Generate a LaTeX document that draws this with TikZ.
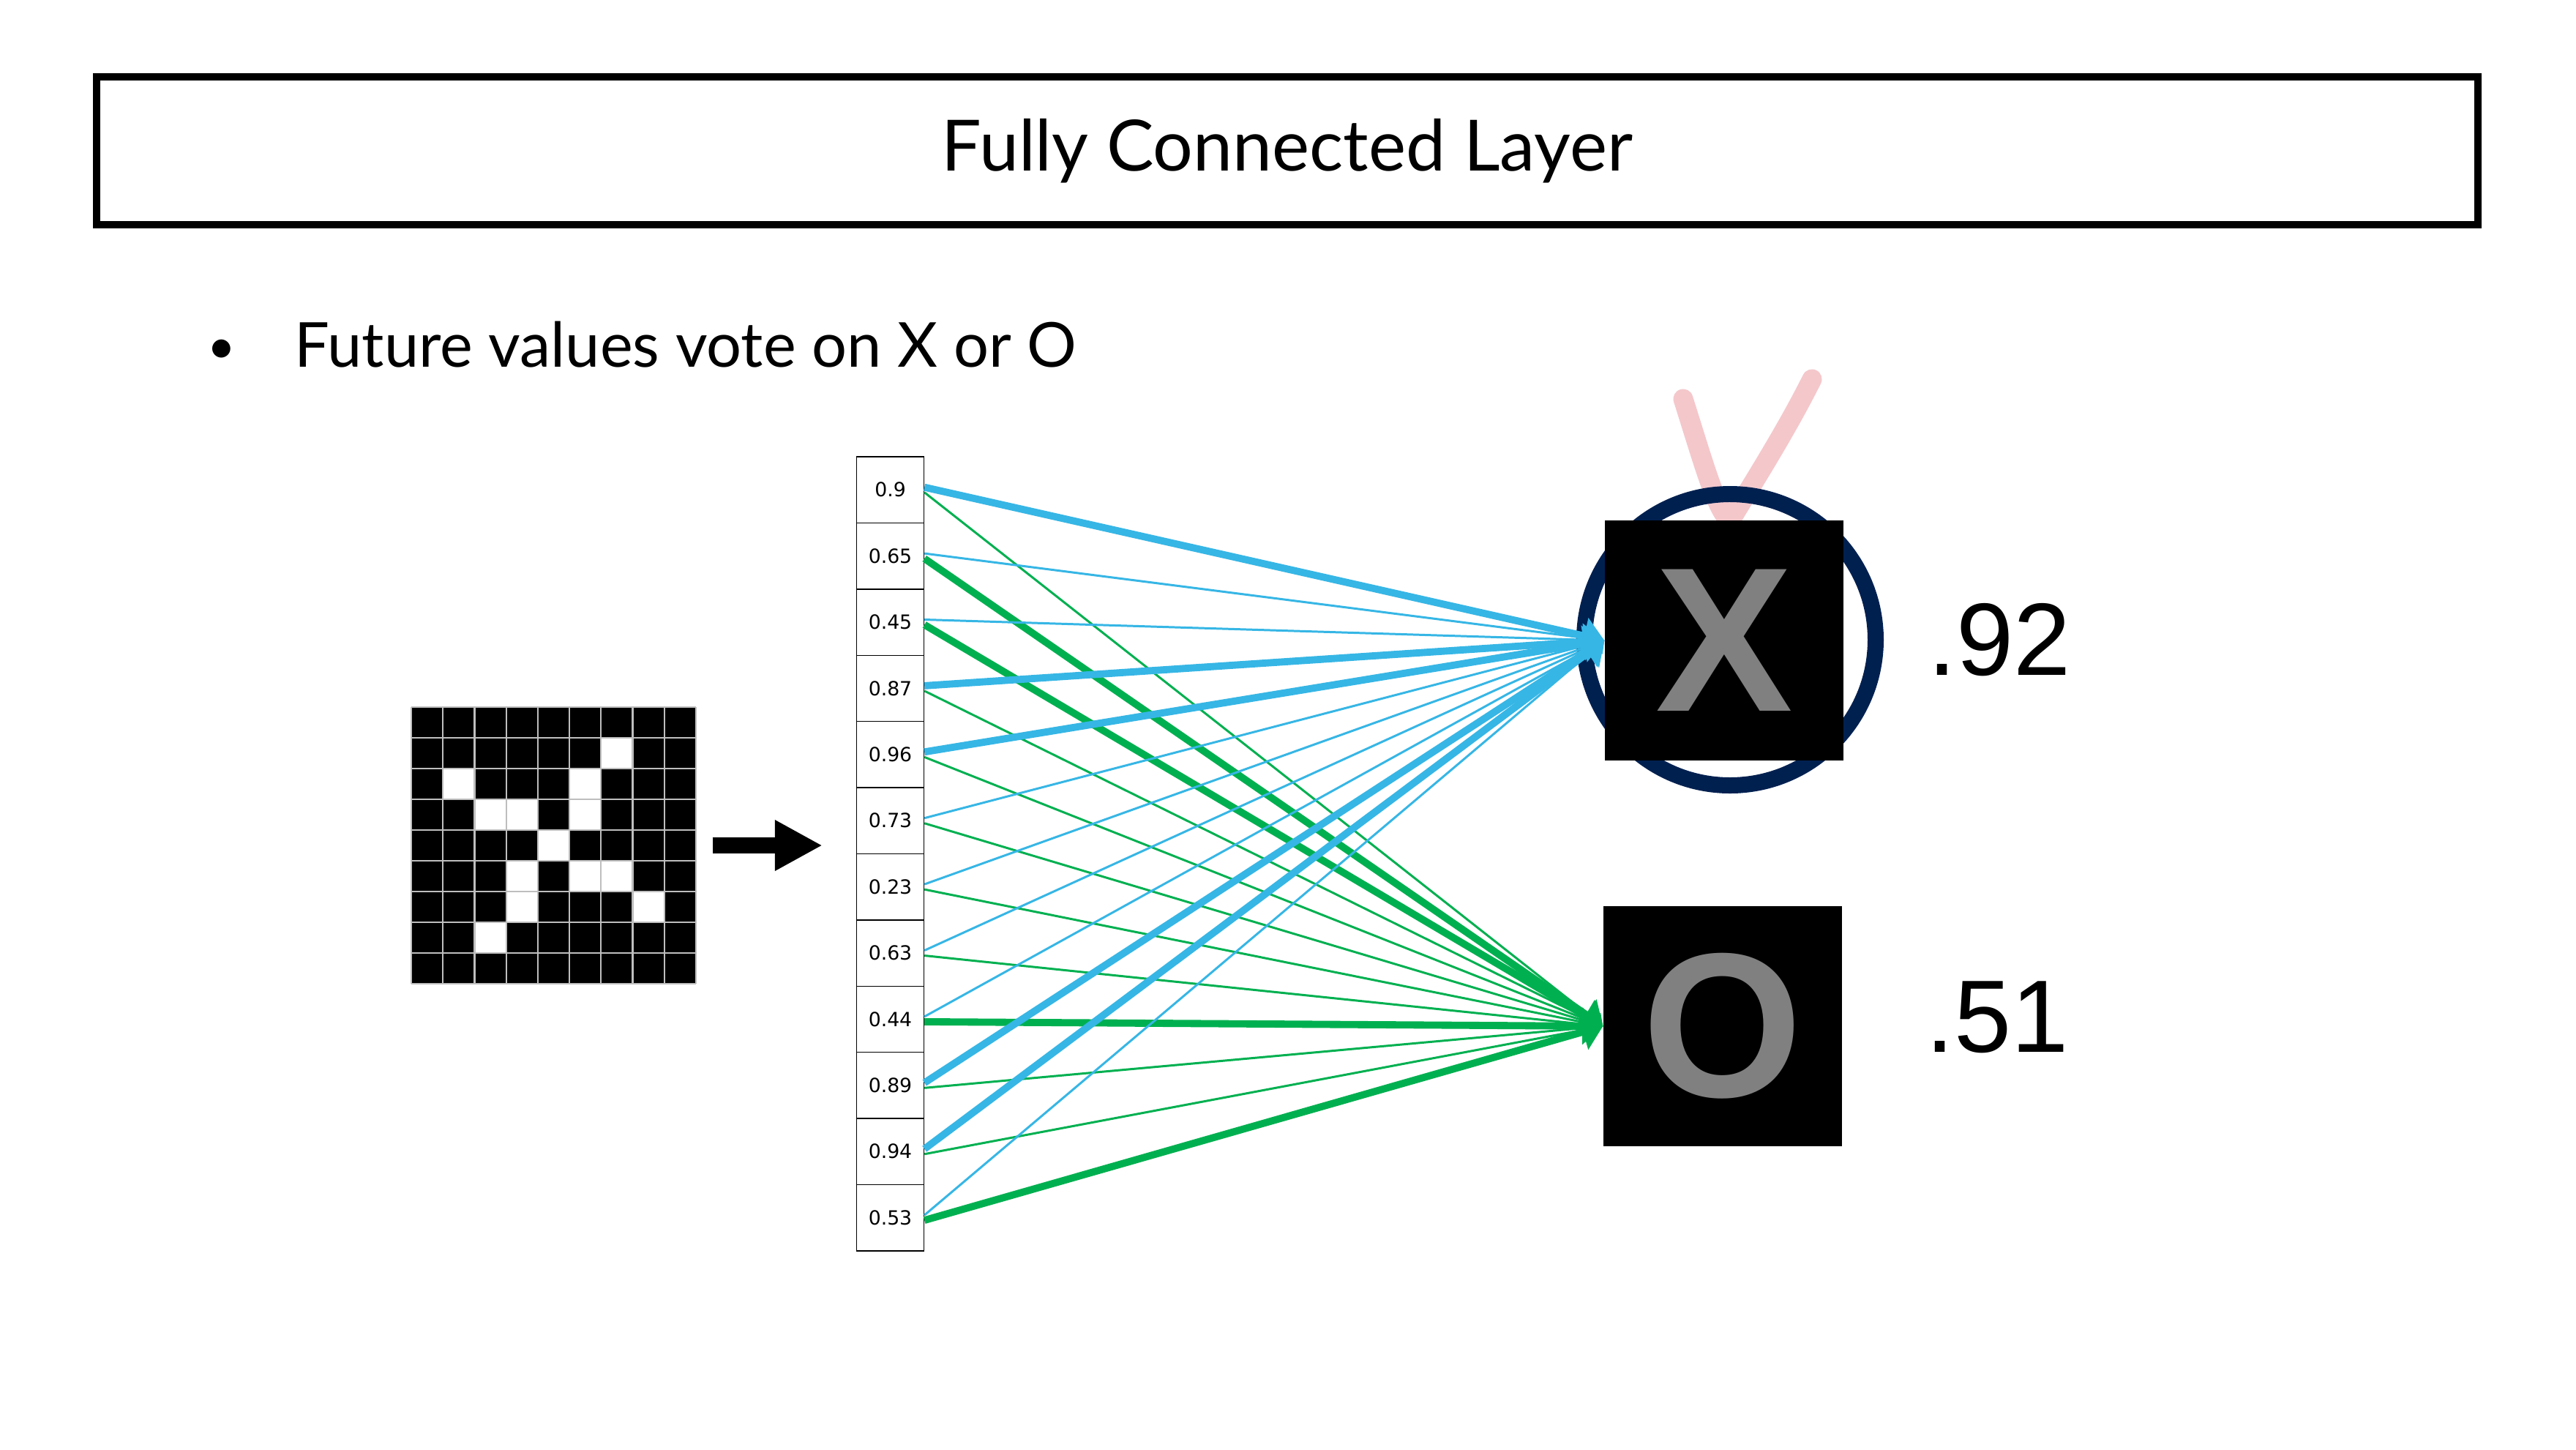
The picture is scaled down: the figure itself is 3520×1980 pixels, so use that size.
\documentclass[tikz,border=0pt]{standalone}
\usepackage{fontspec}
\setmainfont{Lato}
\newfontfamily\arialfont{Liberation Sans}
\newfontfamily\cellfont{DejaVu Sans}
\usetikzlibrary{positioning,arrows.meta}
\pgfdeclarelayer{background}
\pgfsetlayers{background,main}
\definecolor{xblue}{RGB}{54,182,229}
\definecolor{ogreen}{RGB}{0,176,80}
\definecolor{ringnavy}{RGB}{0,32,80}
\definecolor{checkpink}{RGB}{244,199,203}
\definecolor{lettergray}{RGB}{128,128,128}
\definecolor{gridgray}{RGB}{190,190,190}

\begin{document}
\begin{tikzpicture}[x=0.1mm, y=-0.1mm,
			titlebox/.style={draw=black, line width=2.6pt, minimum width=325.4mm, minimum height=20.2mm, font=\fontsize{27.5}{32}\selectfont},
			cellbox/.style={draw=black, line width=0.4pt, minimum width=9.2mm, minimum height=9.04mm, inner sep=0pt, font=\cellfont\fontsize{7.6}{8}\selectfont},
			classbox/.style={fill=black, minimum width=32.6mm, minimum height=32.8mm, inner sep=0pt, text=lettergray, font=\arialfont\bfseries\fontsize{80}{90}\selectfont},
			score/.style={anchor=base west, inner sep=0pt, font=\arialfont\fontsize{40}{46}\selectfont},
			xvote/.style={draw=xblue, line width=2.8pt, -{Triangle[length=8pt,width=14pt]}},
			xweak/.style={draw=xblue, line width=0.85pt, -{Triangle[length=4pt,width=7pt]}},
			ovote/.style={draw=ogreen, line width=2.8pt, -{Triangle[length=8pt,width=14pt]}},
			oweak/.style={draw=ogreen, line width=0.85pt, -{Triangle[length=4pt,width=7pt]}},
			]
			\useasboundingbox (0,0) rectangle (3520,1980);
			%Title
			\node[titlebox] (title) at (1759,206) {Fully Connected Layer};
			\node[anchor=base, font=\fontsize{19}{22}\selectfont] (bullet) at (303,496) {\textbullet};
			\node[anchor=base west, inner sep=0pt, font=\fontsize{24.1}{28}\selectfont] (point) at (402,501) {Future values vote on X or O};
			
			%Image
			\node[fill=black, minimum width=38.9mm, minimum height=37.8mm, inner sep=0pt] (img) at (756.5,1155) {};
			\foreach \c/\r in {6/1,1/2,5/2,2/3,3/3,5/3,4/4,3/5,5/5,6/5,3/6,7/6,2/7}
				\fill[white] ({562+43.22*\c},{966+42*\r}) rectangle ++(43.22,42);
			\foreach \k in {0,...,9} {
				\draw[gridgray, line width=0.6pt] ({562+43.22*\k},966) -- ++(0,378);
				\draw[gridgray, line width=0.6pt] (562,{966+42*\k}) -- ++(389,0);
			}
			
			%Vector
			\foreach \val [count=\i] in {0.9,0.65,0.45,0.87,0.96,0.73,0.23,0.63,0.44,0.89,0.94,0.53}
				\node[cellbox] (v\i) at (1216.5,{669.2+90.4*(\i-1)}) {\val};
			
			%Classes
			\node[classbox] (xbox) at (2356,875) {X};
			\node[classbox] (obox) at (2354,1402) {O};
			\node[score] (xscore) at (2634,922) {.92};
			\node[score] (oscore) at (2631,1437) {.51};
			
			\begin{pgfonlayer}{background}
			\draw[checkpink, line width=7.7pt, line cap=round, line join=round] (2300,545) .. controls (2330,640) and (2345,695) .. (2364,712) .. controls (2395,660) and (2440,590) .. (2476,518);
			\draw[ringnavy, line width=6.26pt] (2364,874) circle [radius=19.9mm];
			\end{pgfonlayer}
			
			%Lines
			\draw[line width=6.26pt, -{Triangle[length=18.5pt,width=18.5pt]}, shorten <=2.2mm, shorten >=4.6mm] (img.east) -- (img.east -| v1.west);
			\foreach \xs/\os [count=\i] in {xvote/oweak,xweak/ovote,xweak/ovote,xvote/oweak,xvote/oweak,xweak/oweak,xweak/oweak,xweak/oweak,xweak/ovote,xvote/oweak,xvote/oweak,xweak/ovote} {
				\draw[\xs] ([yshift=1pt]v\i.east) -- (xbox.west);
				\draw[\os] ([yshift=-1pt]v\i.east) -- (obox.west);
			}
		\end{tikzpicture}
\end{document}
